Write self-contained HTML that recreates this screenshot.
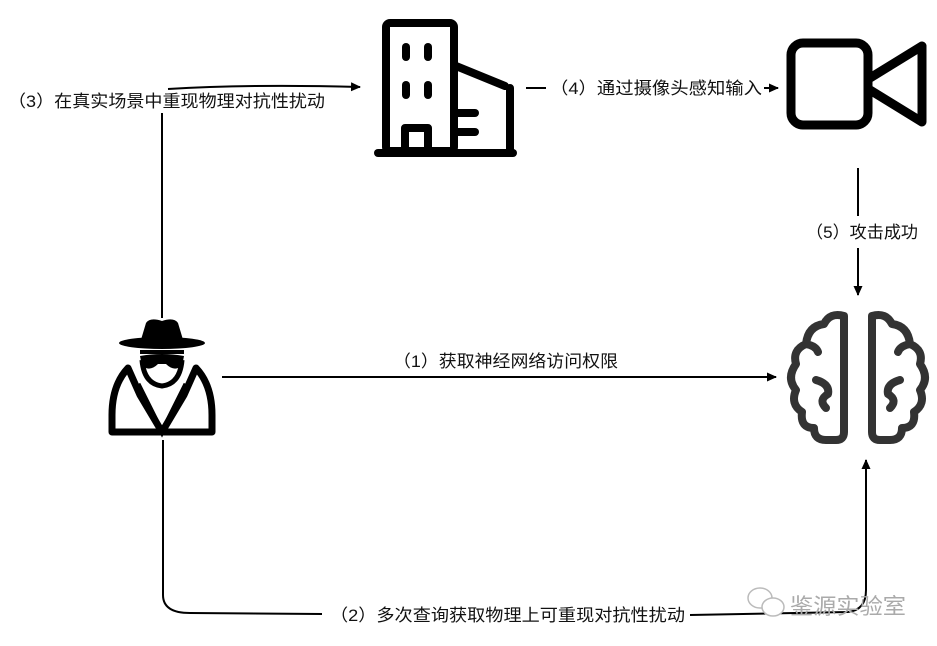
<!DOCTYPE html>
<html><head><meta charset="utf-8"><style>
html,body{margin:0;padding:0;background:#fff;}
svg{display:block}
text{font-family:"Liberation Sans","Noto Sans CJK SC",sans-serif;font-size:17px;fill:#111}
</style></head><body>
<svg width="937" height="646" viewBox="0 0 937 646" xmlns="http://www.w3.org/2000/svg">
<defs><marker id="a" markerWidth="10" markerHeight="10" refX="9" refY="5" orient="auto" markerUnits="userSpaceOnUse"><path d="M0,0.5 L10,5 L0,9.5 Z" fill="#000"/></marker></defs>
<g fill="none" stroke="#000" stroke-width="2">
<path d="M162,318 L162,113"/>
<path d="M168,89 Q250,84 360,87" marker-end="url(#a)"/>
<path d="M526,88 L546,88"/>
<path d="M764,88 L778,88" marker-end="url(#a)"/>
<path d="M858,168 L858,216"/>
<path d="M858,248 L858,295" marker-end="url(#a)"/>
<path d="M222,377 L776,377" marker-end="url(#a)"/>
<path d="M163,440 L163,595 Q163,613 190,613 L322,614"/>
<path d="M690,615 L848,612 Q866,610 866,590 L866,460" marker-end="url(#a)"/>
</g>
<text x="8" y="107" textLength="317" lengthAdjust="spacingAndGlyphs">（3）在真实场景中重现物理对抗性扰动</text>
<text x="550" y="94" textLength="212" lengthAdjust="spacingAndGlyphs">（4）通过摄像头感知输入</text>
<text x="806" y="238" textLength="112" lengthAdjust="spacingAndGlyphs">（5）攻击成功</text>
<text x="393" y="367" textLength="225" lengthAdjust="spacingAndGlyphs">（1）获取神经网络访问权限</text>
<text x="330" y="621" textLength="355" lengthAdjust="spacingAndGlyphs">（2）多次查询获取物理上可重现对抗性扰动</text>

<g fill="none" stroke="#000" stroke-width="8" stroke-linecap="round" stroke-linejoin="round">
<rect x="386" y="23" width="68" height="128" rx="4"/>
<line x1="378" y1="153" x2="513" y2="153"/>
<path d="M456,66 L505,86 M510,88 L510,151"/>
<line x1="456" y1="113" x2="475" y2="113"/>
<line x1="456" y1="132" x2="475" y2="132"/>
<path d="M405,151 L405,128 L428,128 L428,151"/>
<line x1="406" y1="47" x2="406" y2="57"/><line x1="428" y1="47" x2="428" y2="57"/>
<line x1="406" y1="85" x2="406" y2="95"/><line x1="428" y1="85" x2="428" y2="95"/>
</g>
<g fill="none" stroke="#000" stroke-width="9" stroke-linejoin="round">
<rect x="791" y="43" width="77" height="82" rx="12"/>
<path d="M870,78 L922,46 L922,122 L870,90"/>
</g>
<g>
<path d="M140,343 L146,323 Q150,317 162,321 Q174,317 178,323 L184,343 Z" fill="#000"/>
<ellipse cx="162" cy="343" rx="43" ry="6" fill="#000"/>
<path d="M140,352 L184,352" stroke="#000" stroke-width="4"/>
<path d="M140,356 Q162,352 184,356 L182,366 Q174,372 166,364 L158,364 Q150,372 142,366 Z" fill="#000"/>
<path d="M142,360 Q144,384 162,386 Q180,384 182,360" fill="none" stroke="#000" stroke-width="5"/>
<path d="M128,368 L140,395 L162,432 L184,395 L196,368 Q212,385 212,415 L212,432 L112,432 L112,415 Q112,385 128,368 Z" fill="none" stroke="#000" stroke-width="7" stroke-linejoin="round"/>
<path d="M138,384 L162,432 L186,384" fill="none" stroke="#000" stroke-width="5"/>
</g>
<g fill="none" stroke="#333" stroke-width="8" stroke-linecap="round" stroke-linejoin="round">
<path d="M844,316 L844,432 Q844,440 836,440 L826,440 Q814,440 814,428 Q800,428 802,412 Q790,404 796,390 Q786,378 796,364 Q792,350 806,344 Q808,326 824,324 Q830,312 844,316 Z"/>
<path d="M872,316 L872,432 Q872,440 880,440 L890,440 Q902,440 902,428 Q916,428 914,412 Q926,404 920,390 Q930,378 920,364 Q924,350 910,344 Q908,326 892,324 Q886,312 872,316 Z"/>
<path d="M816,380 Q830,384 828,394 Q818,400 826,408 M900,380 Q886,384 888,394 Q898,400 890,408"/>
<path d="M806,344 Q816,346 818,352 M910,344 Q900,346 898,352"/>
</g>
<g fill="none" stroke="#bbb" stroke-width="1.5">
<ellipse cx="760" cy="598" rx="12" ry="10"/>
<ellipse cx="773" cy="607" rx="11" ry="9" fill="#fff"/>
</g>
<text x="790" y="614" textLength="116" lengthAdjust="spacingAndGlyphs" style="font-size:22px;fill:#aaa">鉴源实验室</text>
</svg>
</body></html>
